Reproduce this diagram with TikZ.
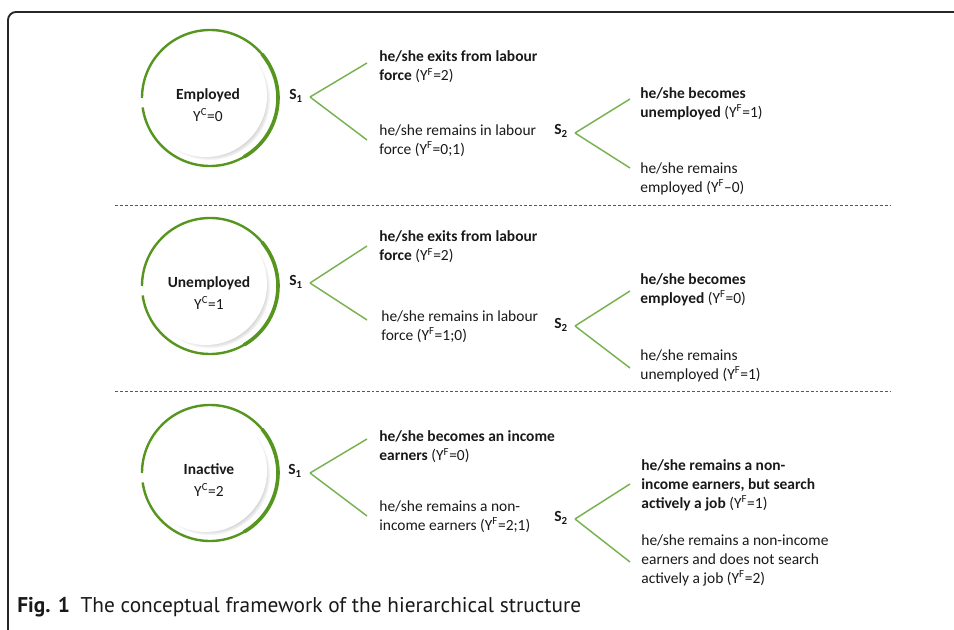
\documentclass[tikz,border=0pt]{standalone}
\usepackage{fontspec}
\setmainfont{Carlito}
\newfontfamily\capfont{PT Sans}
\usepackage{xcolor}
\usetikzlibrary{positioning,calc,shadows}
\definecolor{ringgreen}{RGB}{86,150,30}
\definecolor{branchgreen}{RGB}{120,178,80}
\definecolor{txtgrey}{RGB}{25,25,25}
\tikzset{incircle/.style={circle,fill=white,minimum size=91.5pt,inner sep=0pt,
    circular drop shadow={shadow scale=1.0,shadow xshift=2.4pt,shadow yshift=-2.4pt,opacity=0.6}}}
\tikzset{circtext/.style={align=center,inner sep=0pt,text=txtgrey,font=\fontsize{11.6pt}{16.5pt}\selectfont}}
\tikzset{ring/.style={draw=ringgreen,line width=1.8pt}}
\tikzset{branch/.style={draw=branchgreen,line width=1.1pt}}
\tikzset{choice/.style={anchor=west,align=left,inner sep=0pt,text=txtgrey}}
\tikzset{slabel/.style={inner sep=0pt,font=\fontsize{11.6pt}{13pt}\selectfont\bfseries,text=txtgrey}}
\tikzset{sepline/.style={draw=black!65,dash pattern=on 2.2pt off 1.5pt,line width=0.6pt}}

\begin{document}
\begin{tikzpicture}[x=0.75pt, y=0.75pt, semithick, font=\fontsize{11.6pt}{14.25pt}\selectfont]
        \useasboundingbox (0,0) rectangle (954,-630);
        % frame
        \draw[line width=1.4pt, black!85, rounded corners=6pt] (954,-12) -- (8,-12) -- (8,-632);
        % employed
        \node[incircle] (emp) at (206,-96) {};
        \node[circtext] (emplab) at (208,-105) {\textbf{Employed}\\Y\textsuperscript{C}=0};
        \draw[ring] ([shift={(4,-2)}]emp.center) ++(188:68) arc[start angle=188, end angle=540, radius=68];
        \draw[ring, line width=2.7pt] ([shift={(4,-2)}]emp.center) ++(-60:68) arc[start angle=-60, end angle=40, radius=68];
        \node[slabel] (e1s) at (296,-96) {S\textsubscript{1}};
        \coordinate (e1v) at (310,-97);
        \coordinate (e1a) at (367,-63);
        \coordinate (e1b) at (367,-140);
        \path[branch] (e1v) edge (e1a) edge (e1b);
        \node[choice] (e1up) at (379,-67) {\textbf{he/she exits from labour}\\\textbf{force} (Y\textsuperscript{F}=2)};
        \node[choice] (e1dn) at (379,-141) {he/she remains in labour\\force (Y\textsuperscript{F}=0;1)};
        \node[slabel] (e2s) at (561,-131) {S\textsubscript{2}};
        \coordinate (e2v) at (575,-133);
        \coordinate (e2a) at (630,-99);
        \coordinate (e2b) at (630,-168);
        \path[branch] (e2v) edge (e2a) edge (e2b);
        \node[choice] (e2up) at (640,-104) {\textbf{he/she becomes}\\\textbf{unemployed} (Y\textsuperscript{F}=1)};
        \node[choice] (e2dn) at (640,-179) {he/she remains\\employed (Y\textsuperscript{F}--0)};
        \draw[sepline] (115,-205) -- (890,-205);
        % unemployed
        \node[incircle] (unemp) at (206,-284) {};
        \node[circtext] (unemplab) at (209,-293) {\textbf{Unemployed}\\Y\textsuperscript{C}=1};
        \draw[ring] ([shift={(4,-2)}]unemp.center) ++(188:68) arc[start angle=188, end angle=540, radius=68];
        \draw[ring, line width=2.7pt] ([shift={(4,-2)}]unemp.center) ++(-60:68) arc[start angle=-60, end angle=40, radius=68];
        \node[slabel] (u1s) at (296,-282) {S\textsubscript{1}};
        \coordinate (u1v) at (310,-283);
        \coordinate (u1a) at (367,-246);
        \coordinate (u1b) at (367,-320);
        \path[branch] (u1v) edge (u1a) edge (u1b);
        \node[choice] (u1up) at (379,-247) {\textbf{he/she exits from labour}\\\textbf{force} (Y\textsuperscript{F}=2)};
        \node[choice] (u1dn) at (381,-327) {he/she remains in labour\\force (Y\textsuperscript{F}=1;0)};
        \node[slabel] (u2s) at (561,-325) {S\textsubscript{2}};
        \coordinate (u2v) at (575,-326);
        \coordinate (u2a) at (630,-291);
        \coordinate (u2b) at (630,-368);
        \path[branch] (u2v) edge (u2a) edge (u2b);
        \node[choice] (u2up) at (640,-290) {\textbf{he/she becomes}\\\textbf{employed} (Y\textsuperscript{F}=0)};
        \node[choice] (u2dn) at (640,-366) {he/she remains\\unemployed (Y\textsuperscript{F}=1)};
        \draw[sepline] (115,-391) -- (890,-391);
        % inactive
        \node[incircle] (inact) at (206,-471) {};
        \node[circtext] (inactlab) at (209,-480) {\textbf{Inactive}\\Y\textsuperscript{C}=2};
        \draw[ring] ([shift={(4,-2)}]inact.center) ++(188:68) arc[start angle=188, end angle=540, radius=68];
        \draw[ring, line width=2.7pt] ([shift={(4,-2)}]inact.center) ++(-60:68) arc[start angle=-60, end angle=40, radius=68];
        \node[slabel] (i1s) at (295,-471) {S\textsubscript{1}};
        \coordinate (i1v) at (310,-473);
        \coordinate (i1a) at (367,-439);
        \coordinate (i1b) at (367,-516);
        \path[branch] (i1v) edge (i1a) edge (i1b);
        \node[choice] (i1up) at (379,-447) {\textbf{he/she becomes an income}\\\textbf{earners} (Y\textsuperscript{F}=0)};
        \node[choice] (i1dn) at (379,-517) {he/she remains a non-\\income earners (Y\textsuperscript{F}=2;1)};
        \node[slabel] (i2s) at (561,-518) {S\textsubscript{2}};
        \coordinate (i2v) at (575,-519);
        \coordinate (i2a) at (630,-484);
        \coordinate (i2b) at (630,-562);
        \path[branch] (i2v) edge (i2a) edge (i2b);
        \node[choice] (i2up) at (641,-485) {\textbf{he/she remains a non-}\\\textbf{income earners, but search}\\\textbf{actively a job} (Y\textsuperscript{F}=1)};
        \node[choice] (i2dn) at (641,-560) {he/she remains a non-income\\earners and does not search\\actively a job (Y\textsuperscript{F}=2)};
        % caption
        \node[anchor=west, inner sep=0pt, text=txtgrey] (cap) at (17,-607) {\capfont\fontsize{16pt}{18pt}\selectfont\textbf{Fig. 1}\enspace The conceptual framework of the hierarchical structure};
\end{tikzpicture}
\end{document}
